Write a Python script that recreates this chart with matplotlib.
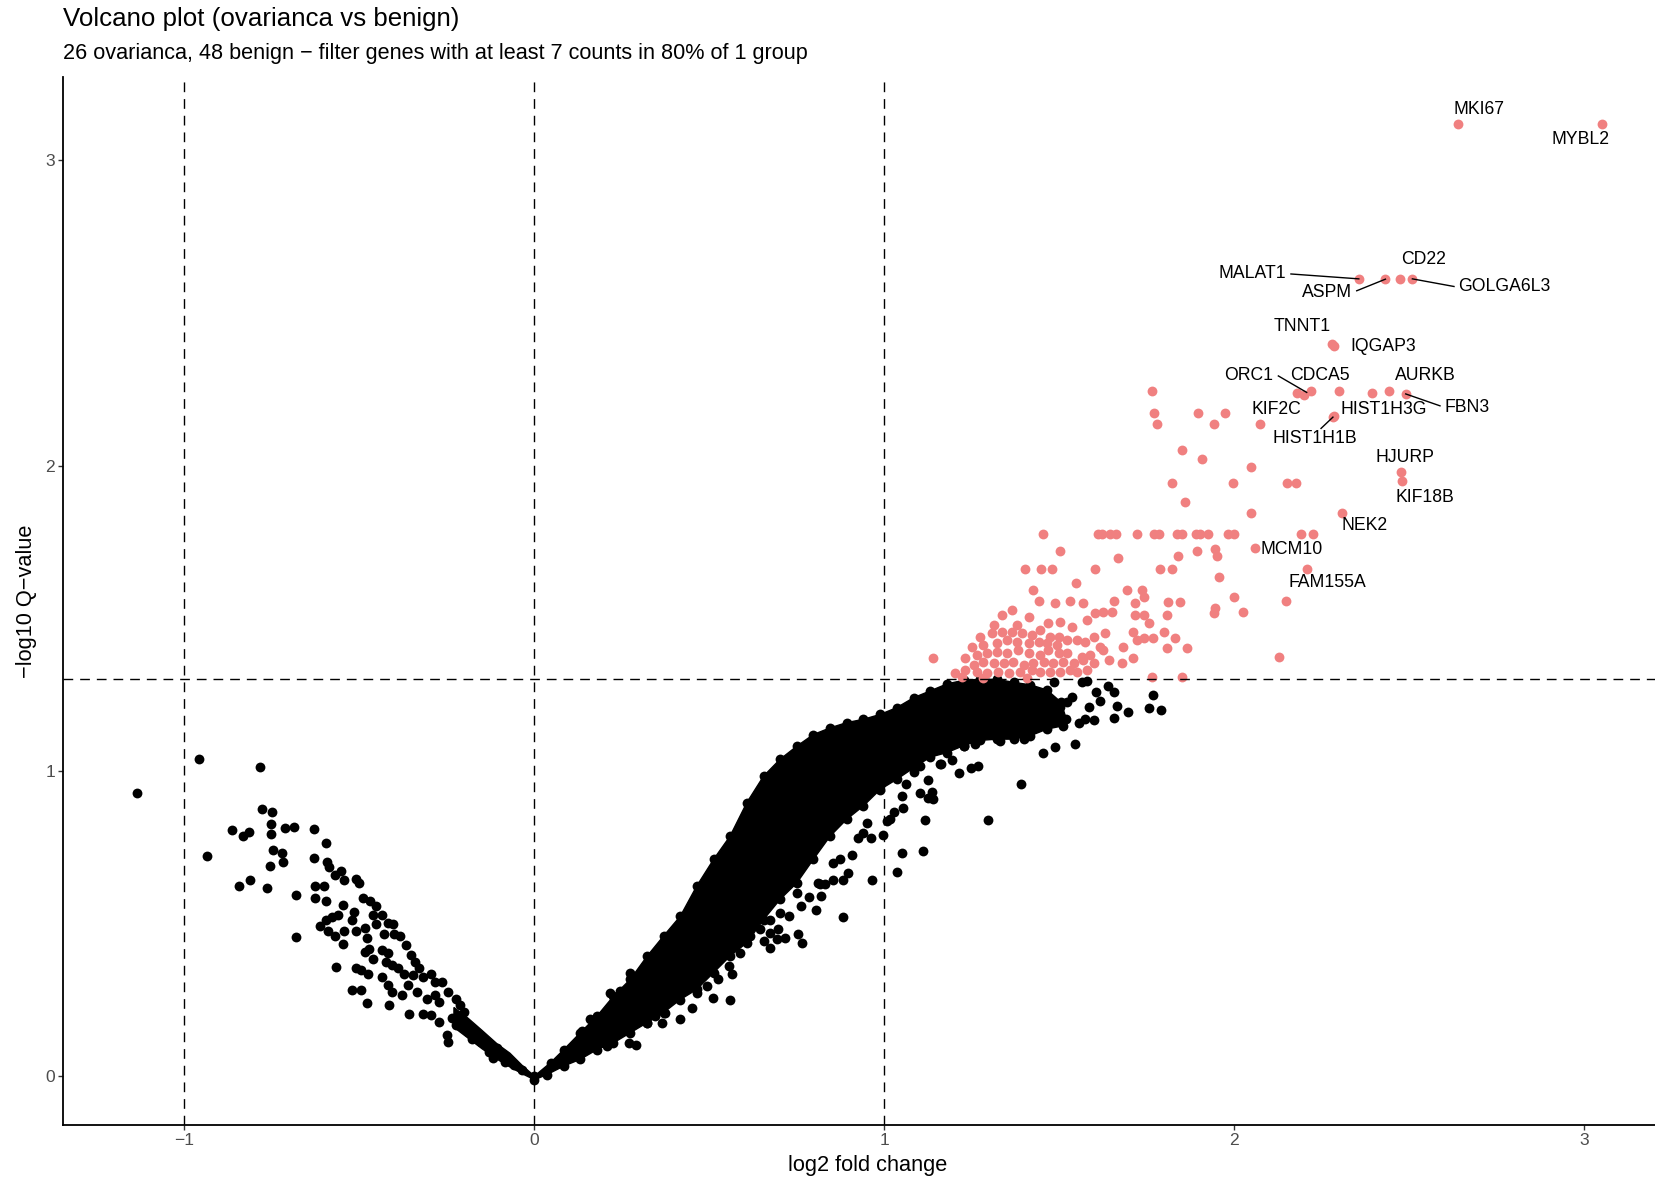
import numpy as np
import matplotlib.pyplot as plt
from matplotlib.patches import Polygon

plt.rcParams['font.family'] = ['Liberation Sans', 'DejaVu Sans']

# --- cut-offs used for the dashed guide lines ---
fc_cuts = [-1, 0, 1]
q_cut = 0.05

# --- significant genes (q < 0.05): (log2 fold change, -log10 q) ---
sig_genes = [
    # crowded part just above the q cut-off
    (1.221, 1.309), (1.283, 1.303), (1.407, 1.303), (1.764, 1.309), (1.850, 1.309),
    (1.202, 1.320), (1.231, 1.331), (1.264, 1.325), (1.293, 1.320), (1.326, 1.325), (1.355, 1.320), (1.388, 1.325),
    (1.421, 1.331), (1.445, 1.325), (1.474, 1.325), (1.502, 1.325), (1.531, 1.331), (1.550, 1.325), (1.579, 1.331),
    (1.255, 1.347), (1.283, 1.358), (1.312, 1.352), (1.341, 1.352), (1.369, 1.358), (1.398, 1.347), (1.426, 1.352),
    (1.455, 1.358), (1.483, 1.352), (1.512, 1.358), (1.541, 1.352), (1.569, 1.363), (1.598, 1.352), (1.641, 1.363),
    (1.679, 1.352), (1.712, 1.369),
    (1.140, 1.369), (1.231, 1.369), (1.264, 1.380), (1.293, 1.385), (1.321, 1.391), (1.350, 1.385), (1.383, 1.396),
    (1.412, 1.385), (1.445, 1.380), (1.469, 1.396), (1.498, 1.385), (1.522, 1.385), (1.564, 1.374), (1.588, 1.380),
    (1.626, 1.396), (2.129, 1.374),
    (1.250, 1.407), (1.283, 1.413), (1.321, 1.418), (1.350, 1.429), (1.379, 1.423), (1.412, 1.418), (1.441, 1.423),
    (1.464, 1.418), (1.493, 1.413), (1.522, 1.429), (1.550, 1.429), (1.574, 1.423), (1.598, 1.440), (1.631, 1.451),
    (1.617, 1.407), (1.683, 1.407), (1.722, 1.429), (1.807, 1.401), (1.864, 1.401),
    (1.274, 1.440), (1.307, 1.451), (1.336, 1.456), (1.364, 1.456), (1.393, 1.451), (1.421, 1.445), (1.445, 1.462),
    (1.474, 1.440), (1.498, 1.440), (1.741, 1.434), (1.769, 1.434), (1.831, 1.434), (1.712, 1.456), (1.798, 1.456),
    (1.379, 1.478), (1.312, 1.478), (1.469, 1.484), (1.502, 1.489), (1.536, 1.473), (1.579, 1.494), (1.755, 1.483),
    (1.336, 1.511), (1.412, 1.505), (1.603, 1.516), (1.626, 1.522), (1.650, 1.522), (1.717, 1.511), (1.741, 1.510),
    (1.807, 1.510), (1.941, 1.516), (2.026, 1.522), (1.364, 1.527), (1.945, 1.535),
    (1.441, 1.555), (1.488, 1.549), (1.531, 1.555), (1.569, 1.549), (1.655, 1.555), (1.717, 1.549), (1.812, 1.554),
    (1.845, 1.554), (2.149, 1.556),
    # sparser part higher up
    (1.741, 1.570), (1.998, 1.570),
    (1.426, 1.592), (1.693, 1.592), (1.736, 1.592),
    (1.547, 1.614), (1.955, 1.636),
    (1.403, 1.661), (1.447, 1.661), (1.478, 1.661), (1.603, 1.661), (1.787, 1.661), (1.823, 1.661), (2.208, 1.661),
    (1.501, 1.721), (1.668, 1.696), (1.838, 1.705), (1.894, 1.721), (1.944, 1.727), (1.950, 1.705), (2.059, 1.729),
    (1.454, 1.775), (1.612, 1.775), (1.623, 1.775), (1.646, 1.775), (1.661, 1.775), (1.723, 1.775), (1.772, 1.775),
    (1.786, 1.775), (1.837, 1.775), (1.850, 1.775), (1.891, 1.775), (1.901, 1.775), (1.925, 1.775), (1.983, 1.775),
    (1.998, 1.775), (2.192, 1.775), (2.225, 1.775),
    (2.049, 1.845), (2.307, 1.845), (1.860, 1.880),
    (1.823, 1.942), (1.995, 1.942), (2.151, 1.942), (2.177, 1.942), (2.478, 1.951), (2.476, 1.978), (2.048, 1.995),
    (1.907, 2.021), (1.852, 2.050),
    (1.779, 2.137), (1.941, 2.137), (2.074, 2.137), (1.771, 2.172), (1.896, 2.172), (1.974, 2.172),
    (2.282, 2.159), (2.286, 2.162),
    (1.764, 2.243), (2.179, 2.237), (2.200, 2.232), (2.219, 2.243), (2.299, 2.243), (2.394, 2.237), (2.442, 2.243),
    (2.490, 2.235),
    (2.285, 2.393), (2.280, 2.397),
    (2.356, 2.612), (2.432, 2.611), (2.475, 2.612), (2.509, 2.612),
    (2.638, 3.121), (3.051, 3.121),
]

# --- non-significant genes, negative fold change side ---
neg_genes = [
    (-1.136, 0.927), (-0.959, 1.040), (-0.783, 1.012), (-0.935, 0.722), (-0.778, 0.876), (-0.749, 0.866),
    (-0.865, 0.807), (-0.834, 0.787), (-0.815, 0.801), (-0.752, 0.825), (-0.752, 0.793), (-0.747, 0.741),
    (-0.721, 0.731), (-0.713, 0.813), (-0.686, 0.817), (-0.757, 0.689), (-0.718, 0.703), (-0.844, 0.624),
    (-0.812, 0.641), (-0.765, 0.616), (-0.681, 0.594), (-0.681, 0.457), (-0.629, 0.810), (-0.595, 0.765),
    (-0.629, 0.715), (-0.594, 0.702), (-0.588, 0.686), (-0.571, 0.658), (-0.554, 0.671), (-0.545, 0.643),
    (-0.510, 0.647), (-0.502, 0.634), (-0.627, 0.624), (-0.601, 0.624), (-0.627, 0.584), (-0.597, 0.575),
    (-0.548, 0.560), (-0.489, 0.584), (-0.471, 0.574), (-0.453, 0.558), (-0.460, 0.529), (-0.437, 0.527),
    (-0.453, 0.500), (-0.418, 0.501), (-0.404, 0.499), (-0.431, 0.464), (-0.400, 0.466), (-0.383, 0.460),
    (-0.595, 0.510), (-0.578, 0.522), (-0.561, 0.527), (-0.612, 0.491), (-0.589, 0.477), (-0.571, 0.460),
    (-0.544, 0.475), (-0.517, 0.538), (-0.522, 0.511), (-0.510, 0.475), (-0.484, 0.484), (-0.548, 0.434),
    (-0.479, 0.451), (-0.472, 0.418), (-0.484, 0.407), (-0.460, 0.385), (-0.437, 0.413), (-0.418, 0.402),
    (-0.424, 0.374), (-0.406, 0.364), (-0.366, 0.429), (-0.354, 0.396), (-0.342, 0.374), (-0.390, 0.353),
    (-0.372, 0.336), (-0.348, 0.331), (-0.331, 0.353), (-0.319, 0.325), (-0.295, 0.336), (-0.283, 0.309),
    (-0.264, 0.309), (-0.566, 0.356), (-0.510, 0.353), (-0.496, 0.347), (-0.476, 0.336), (-0.522, 0.282),
    (-0.496, 0.282), (-0.478, 0.238), (-0.437, 0.325), (-0.418, 0.298), (-0.406, 0.276), (-0.378, 0.265),
    (-0.416, 0.233), (-0.360, 0.298), (-0.336, 0.276), (-0.357, 0.205), (-0.319, 0.205), (-0.307, 0.254),
    (-0.283, 0.265), (-0.272, 0.243), (-0.248, 0.276), (-0.224, 0.254), (-0.250, 0.134), (-0.248, 0.112),
    (-0.236, 0.189), (-0.212, 0.233), (-0.201, 0.211), (-0.295, 0.200), (-0.272, 0.178), (-0.224, 0.167),
    (-0.201, 0.178), (-0.189, 0.145), (-0.177, 0.123), (-0.154, 0.112), (-0.130, 0.080), (-0.118, 0.058),
    (-0.106, 0.091), (-0.083, 0.047), (-0.059, 0.036), (-0.035, 0.020),
]

# --- non-significant genes, positive side, outside the dense band ---
pos_genes = [
    (0.272, 0.339), (0.217, 0.273), (0.245, 0.279), (0.160, 0.186), (0.136, 0.147), (0.208, 0.098),
    (0.271, 0.109), (0.291, 0.102), (0.322, 0.175), (0.345, 0.197), (0.364, 0.175), (0.374, 0.208),
    (0.417, 0.186), (0.450, 0.224), (0.464, 0.273), (0.493, 0.295), (0.510, 0.257), (0.526, 0.317),
    (0.559, 0.248), (0.566, 0.336), (0.557, 0.360), (0.588, 0.404), (0.617, 0.459), (0.645, 0.481),
    (0.655, 0.442), (0.674, 0.420), (0.672, 0.470), (0.697, 0.481), (0.693, 0.448), (0.716, 0.453),
    (0.727, 0.524), (0.754, 0.464), (0.764, 0.437), (0.763, 0.557), (0.786, 0.588), (0.805, 0.543),
    (0.819, 0.590), (0.809, 0.633), (0.831, 0.628), (0.854, 0.644), (0.883, 0.644), (0.897, 0.666),
    (0.882, 0.522), (0.907, 0.726), (0.926, 0.781), (0.961, 0.779), (0.964, 0.641), (0.995, 0.789),
    (1.037, 0.670), (1.051, 0.732), (1.111, 0.738), (1.116, 0.840), (1.102, 0.928), (1.126, 0.912),
    (1.140, 0.907), (1.126, 0.969), (1.159, 1.021), (1.054, 0.879), (1.016, 0.841), (0.950, 0.830),
    (0.940, 0.797), (0.873, 0.710), (0.854, 0.699), (0.816, 0.628), (0.750, 0.601), (0.702, 0.535),
    (0.674, 0.513), (1.008, 0.837), (1.027, 0.864), (1.050, 0.919), (1.061, 0.957), (1.084, 0.995),
    (1.103, 1.017), (1.136, 0.930), (1.162, 1.024), (1.193, 1.037), (1.213, 0.992), (1.248, 1.010),
    (1.267, 1.017), (1.295, 0.840), (1.390, 0.957), (1.452, 1.059), (1.488, 1.077), (1.546, 1.088),
    (1.555, 1.156), (1.574, 1.170), (1.600, 1.168), (1.657, 1.173), (1.695, 1.192), (1.666, 1.214),
    (1.639, 1.279), (1.655, 1.260), (1.604, 1.257), (1.617, 1.230), (1.584, 1.208), (1.564, 1.290),
    (1.579, 1.296), (1.536, 1.241), (1.522, 1.227), (1.501, 1.208), (1.486, 1.292), (1.768, 1.250),
    (1.755, 1.206), (1.790, 1.201), (1.512, 1.170), (1.398, 1.104), (1.331, 1.099), (1.260, 1.088),
    (1.227, 1.083),
]

# outline of the densest part of the positive branch (upper edge, then lower edge)
core_outline = [
    (0.000, 0.000), (0.046, 0.044), (0.084, 0.087), (0.131, 0.142), (0.179, 0.197), (0.226, 0.262),
    (0.274, 0.317), (0.322, 0.393), (0.369, 0.459), (0.417, 0.524), (0.464, 0.623), (0.512, 0.710),
    (0.559, 0.786), (0.607, 0.896), (0.655, 0.983), (0.702, 1.038), (0.750, 1.081), (0.797, 1.119),
    (0.845, 1.141), (0.892, 1.158), (0.940, 1.169), (0.988, 1.185), (1.035, 1.207), (1.084, 1.240),
    (1.131, 1.262), (1.179, 1.285), (1.227, 1.297), (1.274, 1.300), (1.322, 1.300), (1.370, 1.290),
    (1.417, 1.282), (1.465, 1.265), (1.505, 1.225), (1.520, 1.170),
    (1.512, 1.148), (1.465, 1.137), (1.417, 1.115), (1.370, 1.104), (1.322, 1.104), (1.274, 1.100),
    (1.227, 1.083), (1.179, 1.060), (1.131, 1.045), (1.084, 1.010), (1.035, 0.972), (0.988, 0.939),
    (0.940, 0.885), (0.892, 0.841), (0.845, 0.786), (0.797, 0.710), (0.750, 0.633), (0.702, 0.579),
    (0.655, 0.513), (0.607, 0.437), (0.559, 0.393), (0.512, 0.339), (0.464, 0.284), (0.417, 0.251),
    (0.369, 0.208), (0.322, 0.175), (0.274, 0.142), (0.226, 0.109), (0.179, 0.087), (0.131, 0.055),
    (0.084, 0.033), (0.036, 0.005), (0.000, -0.012),
]

# dense band just left of zero
vertex_outline = [
    (0.000, 0.000), (-0.035, 0.035), (-0.070, 0.075), (-0.106, 0.105), (-0.150, 0.150), (-0.190, 0.190),
    (-0.230, 0.225), (-0.230, 0.160), (-0.190, 0.125), (-0.150, 0.090), (-0.106, 0.055), (-0.070, 0.030),
    (-0.035, 0.008), (0.000, -0.012),
]

# --- labelled genes ---
label_genes = ['MKI67', 'MYBL2', 'CD22', 'MALAT1', 'ASPM', 'GOLGA6L3', 'TNNT1', 'IQGAP3', 'ORC1', 'CDCA5',
               'AURKB', 'KIF2C', 'HIST1H3G', 'FBN3', 'HIST1H1B', 'HJURP', 'KIF18B', 'NEK2', 'MCM10', 'FAM155A']
label_fc = [2.638, 3.051, 2.475, 2.356, 2.432, 2.509, 2.280, 2.285, 2.207, 2.219,
            2.442, 2.074, 2.286, 2.490, 2.282, 2.476, 2.478, 2.307, 2.059, 2.208]
label_q = [3.121, 3.121, 2.612, 2.612, 2.611, 2.612, 2.397, 2.393, 2.240, 2.243,
           2.243, 2.137, 2.162, 2.235, 2.159, 1.978, 1.951, 1.845, 1.729, 1.661]

# repelled label positions and which labels get a connector segment
label_xy = [(2.698, 3.168), (2.990, 3.070), (2.541, 2.676), (2.051, 2.628), (2.266, 2.567), (2.773, 2.587),
            (2.193, 2.455), (2.426, 2.390), (2.042, 2.297), (2.245, 2.297), (2.546, 2.294), (2.120, 2.185),
            (2.426, 2.185), (2.665, 2.191), (2.231, 2.090), (2.488, 2.027), (2.545, 1.896), (2.373, 1.803),
            (2.165, 1.725), (2.266, 1.618)]
segment_start = {'MALAT1': (2.162, 2.628), 'ASPM': (2.350, 2.573), 'GOLGA6L3': (2.628, 2.587),
                 'ORC1': (2.126, 2.294), 'FBN3': (2.588, 2.196), 'HIST1H1B': (2.248, 2.122)}

# ---------------------------------------------------------------------------
fig = plt.figure(figsize=(16.56, 11.79), dpi=100)
ax = fig.add_axes([0.0383, 0.0461, 0.972, 0.8885])

dot = 50
ax.add_patch(Polygon(core_outline, closed=True, fc='black', ec='black', lw=1.0, zorder=2))
ax.add_patch(Polygon(vertex_outline, closed=True, fc='black', ec='black', lw=1.0, zorder=2))

cx, cy = zip(*core_outline)
ax.scatter(cx, cy, s=dot, c='black', linewidths=0, zorder=3)
nx, ny = zip(*neg_genes)
ax.scatter(nx, ny, s=dot, c='black', linewidths=0, zorder=3)
px, py = zip(*pos_genes)
ax.scatter(px, py, s=dot, c='black', linewidths=0, zorder=3)
sx, sy = zip(*sig_genes)
ax.scatter(sx, sy, s=dot, c='#F08080', linewidths=0, zorder=3)

# threshold lines
for v in fc_cuts:
    ax.axvline(v, color='black', lw=1.0, ls=(0, (7, 5)), zorder=4)
ax.axhline(-np.log10(q_cut), color='black', lw=1.0, ls=(0, (7, 5)), zorder=4)

# gene labels with connector segments
for name, fx, fy, (tx, ty) in zip(label_genes, label_fc, label_q, label_xy):
    ax.text(tx, ty, name, ha='center', va='center', fontsize=12.7, color='black', zorder=5)
    if name in segment_start:
        x0, y0 = segment_start[name]
        ax.plot([x0, fx], [y0, fy], color='black', lw=1.0, zorder=5)

ax.set_xlim(-1.346, 3.254)
ax.set_ylim(-0.159, 3.273)
ax.set_xticks([-1, 0, 1, 2, 3])
ax.set_yticks([0, 1, 2, 3])
ax.spines[['top', 'right']].set_visible(False)
for side in ['left', 'bottom']:
    ax.spines[side].set_linewidth(1.3)
    ax.spines[side].set_color('black')
ax.tick_params(length=3.6, width=1.0, color='#333333', labelcolor='#4D4D4D',
               labelsize=12.6, pad=2.2)

fig.text(63.4 / 1656, 1 - 19 / 1179, 'Volcano plot (ovarianca vs benign)',
         fontsize=18.6, ha='left', va='center')
fig.text(63.4 / 1656, 1 - 53 / 1179,
         '26 ovarianca, 48 benign \u2212 filter genes with at least 7 counts in 80% of 1 group',
         fontsize=15.6, ha='left', va='center')
fig.text(868 / 1656, 1 - 1165 / 1179, 'log2 fold change', fontsize=15.7, ha='center', va='center')
fig.text(26.4 / 1656, 1 - 601 / 1179, '\u2212log10 Q\u2212value', fontsize=15.7,
         ha='center', va='center', rotation=90)

fig.savefig('out.png', dpi=100)
